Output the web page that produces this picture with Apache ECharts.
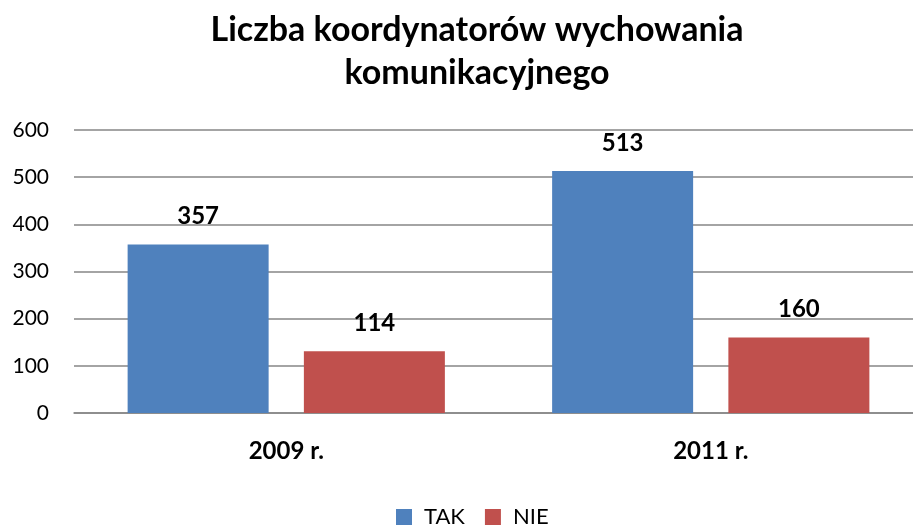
<!DOCTYPE html>
<html>
<head>
<meta charset="utf-8">
<script src="https://cdn.jsdelivr.net/npm/echarts@6/dist/echarts.min.js"></script>
<style>
html,body{margin:0;padding:0;background:#fff;}
#chart{width:913px;height:526px;}
</style>
</head>
<body>
<div id="chart"></div>
<script>
const titleText = "Liczba koordynatorów wychowania\nkomunikacyjnego";
const categories = ["2009 r.", "2011 r."];
const seriesNames = ["TAK", "NIE"];
// bar heights as drawn in the picture
const takValues = [357, 513];
const nieValues = [131, 160];
// value labels as printed in the picture
const takLabels = ["357", "513"];
const nieLabels = ["114", "160"];
const yTicks = [0, 100, 200, 300, 400, 500, 600];

const FONT = "Lato";
const chart = echarts.init(document.getElementById('chart'));
const labelStyle = (texts) => ({
  show: true,
  position: 'top',
  distance: 16,
  fontFamily: FONT,
  fontWeight: 'bold',
  fontSize: 24,
  color: '#000',
  formatter: p => texts[p.dataIndex]
});
chart.setOption({
  animation: false,
  title: {
    text: titleText,
    left: 472,
    top: 4,
    textAlign: 'center',
    textStyle: {fontFamily: FONT, fontWeight: 'bold', fontSize: 34, lineHeight: 43, color: '#000'}
  },
  legend: {
    data: seriesNames,
    left: 396,
    top: 506,
    padding: 0,
    itemWidth: 16,
    itemHeight: 16,
    itemGap: 20,
    icon: 'rect',
    textStyle: {fontFamily: FONT, fontSize: 22, lineHeight: 20, color: '#000', padding: [0,0,0,7]}
  },
  grid: {left: 74, right: -10, top: 130, bottom: 113, containLabel: false, outerBoundsMode: 'none'},
  xAxis: {
    type: 'category',
    data: categories,
    axisLine: {show: true, lineStyle: {color: '#868686', width: 1.5}},
    axisTick: {show: false},
    axisLabel: {fontFamily: FONT, fontWeight: 'bold', fontSize: 24, color: '#000', margin: 26}
  },
  yAxis: {
    type: 'value',
    min: yTicks[0],
    max: yTicks[yTicks.length - 1],
    interval: 100,
    axisLine: {show: false},
    axisTick: {show: false},
    splitLine: {lineStyle: {color: '#868686', width: 1.5}},
    axisLabel: {fontFamily: FONT, fontSize: 21, color: '#000', margin: 25}
  },
  series: [
    {name: seriesNames[0], type: 'bar', data: takValues, barWidth: 141, barGap: '25%',
     itemStyle: {color: '#4F81BD'}, label: labelStyle(takLabels)},
    {name: seriesNames[1], type: 'bar', data: nieValues, barWidth: 141, barGap: '25%',
     itemStyle: {color: '#C0504D'}, label: labelStyle(nieLabels)}
  ]
});
</script>
</body>
</html>
